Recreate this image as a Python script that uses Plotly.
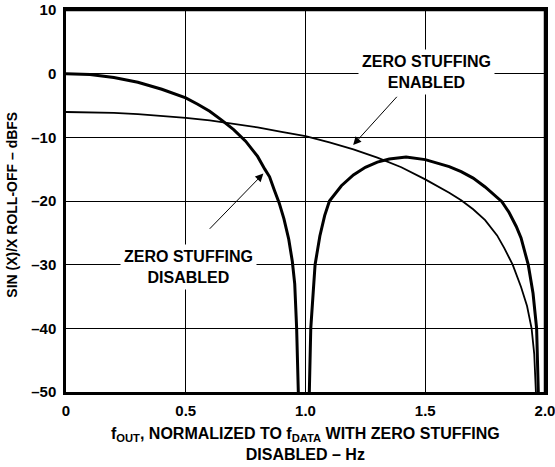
import plotly.graph_objects as go

# Zero stuffing disabled (thick), split at the null near f = 1
dis_f1 = [0.0, 0.1, 0.2, 0.3, 0.4, 0.5, 0.55, 0.6, 0.65, 0.7, 0.75, 0.8, 0.83, 0.85, 0.87, 0.89, 0.91, 0.93, 0.945, 0.955, 0.963, 0.97]
dis_db1 = [0.0, -0.15, -0.6, -1.35, -2.45, -3.8, -4.8, -5.9, -7.3, -8.8, -10.6, -13.0, -15.0, -16.2, -18.3, -20.3, -22.8, -26.0, -29.5, -33.0, -40.0, -50.0]
dis_f2 = [1.016, 1.022, 1.04, 1.06, 1.08, 1.1, 1.15, 1.2, 1.25, 1.3, 1.35, 1.42, 1.5, 1.55, 1.6, 1.65, 1.7, 1.75, 1.8, 1.82, 1.85, 1.88, 1.9, 1.93, 1.95, 1.965, 1.972]
dis_db2 = [-50.0, -40.0, -30.0, -25.5, -22.3, -20.0, -17.6, -15.9, -14.7, -13.9, -13.4, -13.1, -13.5, -14.0, -14.6, -15.4, -16.4, -17.8, -19.5, -20.1, -21.8, -24.0, -25.8, -30.0, -34.5, -40.0, -50.0]

# Zero stuffing enabled (thin)
en_f = [0.0, 0.1, 0.2, 0.3, 0.4, 0.5, 0.6, 0.7, 0.8, 0.9, 1.0, 1.1, 1.2, 1.3, 1.4, 1.5, 1.6, 1.65, 1.7, 1.75, 1.8, 1.83, 1.865, 1.9, 1.925, 1.944, 1.955, 1.962]
en_db = [-6.02, -6.06, -6.16, -6.35, -6.6, -6.93, -7.35, -7.85, -8.44, -9.13, -9.8, -10.8, -11.9, -13.2, -14.7, -16.6, -18.7, -19.9, -21.3, -23.0, -25.4, -27.4, -30.0, -33.5, -36.5, -40.0, -44.0, -50.0]

x_ticks = [0, 0.5, 1.0, 1.5, 2.0]
x_ticktext = ["0", "0.5", "1.0", "1.5", "2.0"]
y_ticks = [10, 0, -10, -20, -30, -40, -50]
y_ticktext = ["10", "0", "–10", "–20", "–30", "–40", "–50"]

FONT = "Liberation Sans, Arial, Helvetica, sans-serif"

fig = go.Figure()
fig.add_trace(go.Scatter(x=dis_f1, y=dis_db1, mode="lines", line=dict(color="black", width=3), showlegend=False))
fig.add_trace(go.Scatter(x=dis_f2, y=dis_db2, mode="lines", line=dict(color="black", width=3), showlegend=False))
fig.add_trace(go.Scatter(x=en_f, y=en_db, mode="lines", line=dict(color="black", width=1.8), showlegend=False))

axis_common = dict(
    showgrid=True, gridcolor="black", gridwidth=1.2,
    showline=True, linecolor="black", linewidth=2.5, mirror="all",
    zeroline=False, ticks="", automargin=False, ticklabeloverflow="allow",
    tickfont=dict(family=FONT, size=15, color="black", weight="bold"),
)

fig.update_xaxes(range=[0, 2.0], tickvals=x_ticks, ticktext=x_ticktext, ticklabelstandoff=3, **axis_common)
fig.update_yaxes(range=[-50, 10], tickvals=y_ticks, ticktext=y_ticktext, ticklabelstandoff=4, **axis_common)

annotations = [
    dict(x=1.506, y=0.3, xref="x", yref="y", text="<b>ZERO STUFFING<br>ENABLED</b>", showarrow=False,
         font=dict(family=FONT, size=16, color="black"), bgcolor="white", borderpad=3, align="center"),
    dict(x=0.51, y=-30.3, xref="x", yref="y", text="<b>ZERO STUFFING<br>DISABLED</b>", showarrow=False,
         font=dict(family=FONT, size=16, color="black"), bgcolor="white", borderpad=3, align="center"),
    dict(x=1.199, y=-11.2, ax=1.387, ay=-3.4, xref="x", yref="y", axref="x", ayref="y", text="",
         showarrow=True, arrowhead=2, arrowsize=1.6, arrowwidth=1, arrowcolor="black"),
    dict(x=0.824, y=-15.7, ax=0.594, ay=-24.6, xref="x", yref="y", axref="x", ayref="y", text="",
         showarrow=True, arrowhead=2, arrowsize=1.6, arrowwidth=1, arrowcolor="black"),
    dict(x=-0.113, y=0.49, xref="paper", yref="paper", text="<b>SIN (X)/X ROLL-OFF – dBFS</b>", textangle=-90,
         showarrow=False, font=dict(family=FONT, size=14, color="black"), xanchor="center", yanchor="middle"),
    dict(x=0.5, y=-0.08, xref="paper", yref="paper",
         text="<b>f<sub>OUT</sub>, NORMALIZED TO f<sub>DATA</sub> WITH ZERO STUFFING<br>DISABLED – Hz</b>",
         showarrow=False, font=dict(family=FONT, size=16, color="black"), xanchor="center", yanchor="top",
         align="center"),
]

fig.update_layout(
    width=555, height=467,
    margin=dict(l=66, r=10, t=10, b=75),
    plot_bgcolor="white", paper_bgcolor="white",
    annotations=annotations,
    shapes=[
        dict(type="line", xref="paper", yref="paper", x0=0, y0=1, x1=1, y1=1,
             line=dict(color="black", width=2.5), layer="above"),
        dict(type="line", xref="paper", yref="paper", x0=1, y0=0, x1=1, y1=1,
             line=dict(color="black", width=2.5), layer="above"),
    ],
    font=dict(family=FONT, color="black"),
)

fig.write_html(
    "out.html",
    config={"displayModeBar": False},
    post_script="document.body.style.margin='0';document.body.style.overflow='hidden';",
)
